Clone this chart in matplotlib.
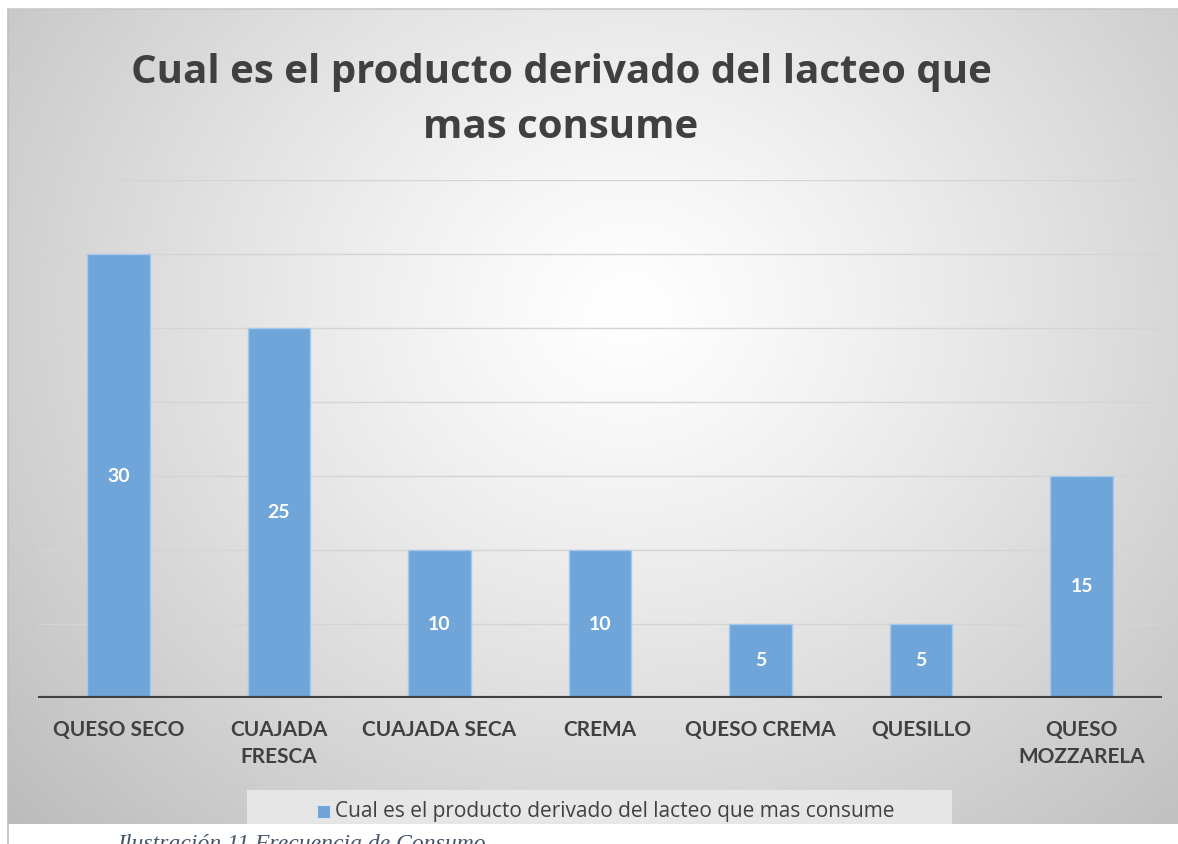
import numpy as np
import matplotlib.pyplot as plt
from matplotlib.patches import Rectangle

categorias = ["QUESO SECO", "CUAJADA\nFRESCA", "CUAJADA SECA", "CREMA",
              "QUESO CREMA", "QUESILLO", "QUESO\nMOZZARELA"]
valores = [30, 25, 10, 10, 5, 5, 15]
etiquetas = ["30", "25", "10", "10", "5", "5", "15"]
titulo = "Cual es el producto derivado del lacteo que\nmas consume"
serie = "Cual es el producto derivado del lacteo que mas consume"

W, H = 1178, 844
fig = plt.figure(figsize=(W / 100, H / 100), dpi=100)
fig.patch.set_facecolor("white")

# fondo con degradado radial
bx0, by0 = 8 / W, (H - 824) / H
bg = fig.add_axes([bx0, by0, 1 - bx0, (824 - 9) / H])
yy, xx = np.mgrid[0:815, 0:1170]
r = np.sqrt(((xx - 620) / 700.0) ** 2 + ((yy - 300) / 620.0) ** 2)
g = 1 - 0.21 * np.clip(r, 0, 1.2) ** 1.2
img = np.dstack([g, g, g])
bg.imshow(img, aspect="auto", extent=[0, 1, 0, 1], origin="upper")
bg.set_xlim(0, 1)
bg.set_ylim(0, 1)
bg.axis("off")

# borde izquierdo y superior
fig.add_artist(plt.Line2D([bx0, bx0], [0, 1 - 9 / H], color="#bfbfbf", lw=1.2))
fig.add_artist(plt.Line2D([bx0, 1], [1 - 9 / H, 1 - 9 / H], color="#c8c8c8", lw=1.2))

ax = fig.add_axes([38 / W, (H - 698) / H, (1162 - 38) / W, (698 - 180) / H])
ax.set_facecolor("none")
x = np.arange(len(categorias))
barras = ax.bar(x, valores, width=0.39, color="#6fa5d9", edgecolor="#a7c8e8",
                linewidth=1, zorder=3)
for b, t in zip(barras, etiquetas):
    ax.text(b.get_x() + b.get_width() / 2, b.get_height() / 2, t, ha="center",
            va="center", color="white", fontsize=14, fontweight="bold",
            family="Lato", zorder=4)

ax.set_xlim(-0.5, len(categorias) - 0.5)
ax.set_ylim(0, 35)
ax.set_yticks(np.arange(5, 36, 5))
ax.yaxis.grid(True, color="#d4d4d4", lw=1, zorder=0)
ax.set_axisbelow(True)
ax.tick_params(axis="y", left=False, labelleft=False)
ax.tick_params(axis="x", length=0, pad=16)
ax.set_xticks(x)
ax.set_xticklabels(categorias, fontsize=15, fontweight="bold", color="#404040",
                   family="Lato", linespacing=1.45, va="top")
for s in ax.spines.values():
    s.set_visible(False)
ax.axhline(0, color="#404040", lw=3, zorder=5)

fig.text(561 / W, 1 - 100 / H, titulo, ha="center", va="center", fontsize=29,
         fontweight="bold", color="#404040", family="Open Sans", linespacing=1.5)

# leyenda
fig.add_artist(Rectangle((247 / W, (H - 824) / H), 705 / W, 34 / H,
                         transform=fig.transFigure, facecolor="#ececec",
                         edgecolor="none", alpha=0.8))
fig.add_artist(Rectangle((318 / W, (H - 818) / H), 12 / W, 12 / H,
                         transform=fig.transFigure, facecolor="#6fa5d9",
                         edgecolor="none"))
fig.text(335 / W, 1 - 811 / H, serie, ha="left", va="center", fontsize=15,
         color="#404040", family="Open Sans")

fig.text(117 / W, 1 - 850 / H, "Ilustración 11 Frecuencia de Consumo",
         ha="left", va="baseline", fontsize=17, style="italic",
         color="#44546a", family="Liberation Serif")

fig.savefig("out.png", dpi=100)
